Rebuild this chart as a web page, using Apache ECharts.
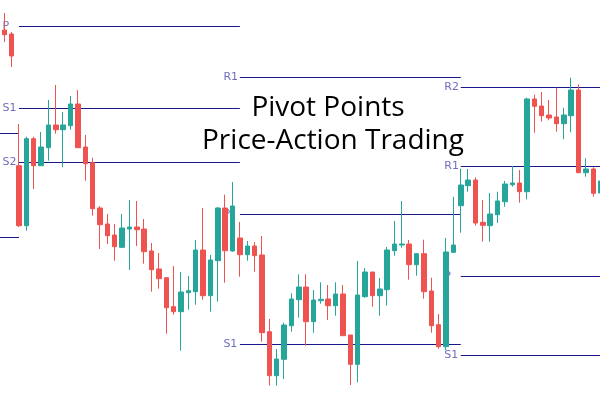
<!DOCTYPE html>
<html>
<head>
<meta charset="utf-8">
<script src="https://cdn.jsdelivr.net/npm/echarts@6/dist/echarts.min.js"></script>
<style>html,body{margin:0;padding:0;background:#fff}#c{width:600px;height:400px}</style>
</head>
<body>
<div id="c"></div>
<script>
// ---- data (price units) ----
var opens  = [370,366,234.3,174.3,261.3,234.3,252.3,275,270.3,274.3,296,253,237.3,192,176,165,152.7,171,173,171,149,131,122.3,93.3,88.3,107.3,108.3,150,104.3,139.3,192,149,162,145.3,154,145,68.3,24.3,40.7,74.3,100.3,113,78.3,99.3,101,94.3,106,65,35.7,103.3,128,104.3,110.3,149.3,155,156,135.3,146.3,109,75.3,53.3,147.7,194.3,214.3,220,177.7,174.3,185.3,198.3,215.3,217,208.3,301,294,285,283,276.3,284.3,310,227.3,231,207];
var closes = [365.3,344,174.3,261.3,234.3,253,275,270.3,275,296,252.3,236.3,191.3,175.3,164.3,153.3,172,173,170.3,148.3,130.3,121.3,92.3,88.3,108,109.3,150,104.3,140,192,149.3,194,145.3,154,144.3,67.3,24.3,41,75,101,113,78.3,100,100.7,94.3,106,64.3,35.7,105,128,104.3,111,150,156,156,135.3,146.3,108.3,74.3,53.3,148,155,215,220,177,174.7,186,199,216,217,208.3,301,293.7,284.3,282,276.3,285,310,227.3,231,206.7,219];
var lows   = [358,333,173,169.3,211,234.3,239.3,266.3,232.7,270.3,252.3,219.3,184.3,151,156,139.3,152,130,154,136.3,108.3,111.3,66.3,85.3,49.3,90.3,95.3,100.3,88.3,98.3,117.3,148.3,123.3,139.3,128.3,58.3,14.3,14.3,21,68.3,82.3,54.3,67.3,96.3,80,84.3,64.3,15,17.7,102.3,93.3,84.3,94.3,144.3,152.3,120.3,124.3,101.3,67.3,51.3,50,147,167.3,208.3,174.3,158.3,158.3,177,193.3,213.3,197.3,200.7,267.3,278.3,279.7,268.3,260.7,267.7,227.3,223.3,203.3,204];
var highs  = [387,368,276,263.3,263.3,268,300,315,288,304,310,265,242.3,194,186,176,186,200,199,181,157,147,122.3,134,128,124,160,192,145,193,205.3,218,178,159,158,164,81,51,77.3,106.7,125.7,125.7,110,117.7,115,117.7,115,65,139,132,128,122,153,179,199,160,147,160.3,122.3,86,162,203.3,231.3,231,222.7,200,207,208.3,219,234,230,302.3,305.3,308,300,312.3,292.3,322.3,315.7,241.7,232.7,222];
var categories = opens.map(function(_, i){ return 'B' + (i + 1); });

// pivot levels: [label, value, startBar, endBar]
var pivotPrior   = [['', 266.5, -1, 2], ['', 162.5, -1, 2]];
var pivotPeriod1 = [['P', 373.5, 2, 32], ['S1', 291.5, 2, 32], ['S2', 237.5, 2, 32]];
var pivotPeriod2 = [['R1', 322.5, 32, 62], ['P', 185.5, 32, 62], ['S1', 55.5, 32, 62]];
var pivotPeriod3 = [['R2', 312.5, 62, 83], ['R1', 233.5, 62, 83], ['P', 123.5, 62, 83], ['S1', 44.5, 62, 83]];
var titleLines = ['Pivot Points', 'Price-Action Trading'];

// ---- build ----
var candleData = opens.map(function(o, i){ return [o, closes[i], lows[i], highs[i]]; });
var allPivots = pivotPrior.concat(pivotPeriod1, pivotPeriod2, pivotPeriod3);
var series = [{
  type: 'candlestick', z: 3, data: candleData, barWidth: 5,
  itemStyle: { color: '#26a69a', color0: '#ef5350', borderColor: '#26a69a', borderColor0: '#ef5350', borderWidth: 1 }
}];
allPivots.forEach(function(p){
  series.push({
    type: 'line', z: 2, symbol: 'none', silent: true, animation: false,
    lineStyle: { color: '#1a168c', width: 1 },
    data: [[p[2], p[1]], [p[3], p[1]]]
  });
});
var labelData = allPivots.filter(function(p){ return p[0]; }).map(function(p){
  return { name: p[0], value: [p[2], p[1]] };
});
series.push({
  type: 'scatter', z: 1, zlevel: 0, symbolSize: 1, itemStyle: { color: 'rgba(0,0,0,0)' },
  data: labelData, animation: false, silent: true,
  label: { show: true, position: [-16, 0.5], align: 'left', verticalAlign: 'middle', formatter: '{b}', color: '#4a48aa',
           fontFamily: 'DejaVu Sans', fontSize: 11 }
});

var chart = echarts.init(document.getElementById('c'));
chart.setOption({
  animation: false,
  backgroundColor: '#fff',
  grid: { left: 0.62, top: 0, right: -4.32, bottom: 0, outerBoundsMode: 'none', containLabel: false },
  xAxis: { type: 'category', data: categories, boundaryGap: true, show: false },
  yAxis: { type: 'value', min: 0, max: 400, show: false },
  graphic: [
    { type: 'text', x: 328, y: 108, z: 10, style: { text: titleLines[0], font: '28px "Open Sans"', fill: '#000', align: 'center', verticalAlign: 'middle' } },
    { type: 'text', x: 333, y: 141, z: 10, style: { text: titleLines[1], font: '28px "Open Sans"', fill: '#000', align: 'center', verticalAlign: 'middle' } }
  ],
  series: series
});
</script>
</body>
</html>
